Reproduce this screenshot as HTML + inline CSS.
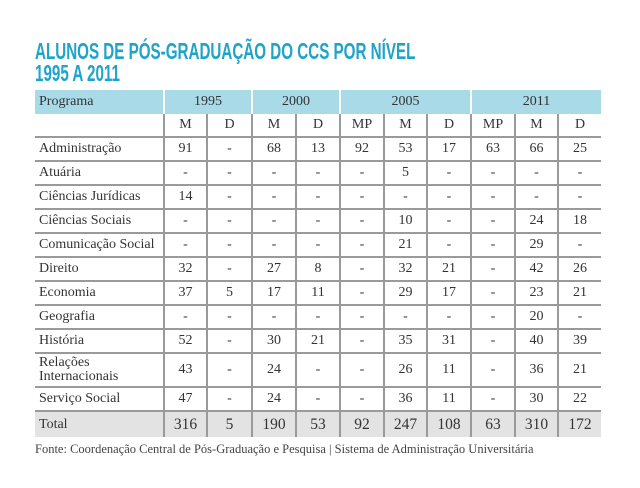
<!DOCTYPE html><html><head><meta charset="utf-8"><style>
body{margin:0;width:640px;height:488px;background:#fff;position:relative;overflow:hidden;font-family:"Liberation Serif",serif;color:#333}
.t{position:absolute;left:35px;font-family:"Liberation Sans",sans-serif;font-weight:bold;color:#1ea3c9;font-size:23px;transform-origin:0 0;transform:scaleX(0.66);white-space:nowrap;line-height:22px}
table{position:absolute;left:35px;top:90px;border-collapse:collapse;table-layout:fixed;font-size:14px}
td{border-left:2px solid #9a9a9a;border-bottom:2px solid #9a9a9a;text-align:center;height:22px;padding:0}
td:first-child{border-left:none;text-align:left;padding-left:4px}
tr.h td{background:#a9dae8;border-left:2px solid #fff;border-bottom:none;height:24px}
tr.h td:first-child{border-left:none}
tr.tot td{background:#e3e3e3;border-bottom:none;font-size:15.5px;height:25px}
.f{position:absolute;left:35px;top:442px;font-size:12.5px;color:#444}
</style></head><body>
<div class="t" style="top:40px">ALUNOS DE PÓS-GRADUAÇÃO DO CCS POR NÍVEL</div>
<div class="t" style="top:62px">1995 A 2011</div>
<table>
<colgroup><col style="width:129px"><col style="width:43px"><col style="width:45px"><col style="width:44px"><col style="width:44px"><col style="width:44px"><col style="width:43px"><col style="width:44px"><col style="width:44px"><col style="width:43px"><col style="width:43px"></colgroup>
<tr class="h"><td>Programa</td><td colspan="2">1995</td><td colspan="2">2000</td><td colspan="3">2005</td><td colspan="3">2011</td></tr>
<tr><td></td><td>M</td><td>D</td><td>M</td><td>D</td><td>MP</td><td>M</td><td>D</td><td>MP</td><td>M</td><td>D</td></tr>
<tr><td>Administração</td><td>91</td><td>-</td><td>68</td><td>13</td><td>92</td><td>53</td><td>17</td><td>63</td><td>66</td><td>25</td></tr>
<tr><td>Atuária</td><td>-</td><td>-</td><td>-</td><td>-</td><td>-</td><td>5</td><td>-</td><td>-</td><td>-</td><td>-</td></tr>
<tr><td>Ciências Jurídicas</td><td>14</td><td>-</td><td>-</td><td>-</td><td>-</td><td>-</td><td>-</td><td>-</td><td>-</td><td>-</td></tr>
<tr><td>Ciências Sociais</td><td>-</td><td>-</td><td>-</td><td>-</td><td>-</td><td>10</td><td>-</td><td>-</td><td>24</td><td>18</td></tr>
<tr><td>Comunicação Social</td><td>-</td><td>-</td><td>-</td><td>-</td><td>-</td><td>21</td><td>-</td><td>-</td><td>29</td><td>-</td></tr>
<tr><td>Direito</td><td>32</td><td>-</td><td>27</td><td>8</td><td>-</td><td>32</td><td>21</td><td>-</td><td>42</td><td>26</td></tr>
<tr><td>Economia</td><td>37</td><td>5</td><td>17</td><td>11</td><td>-</td><td>29</td><td>17</td><td>-</td><td>23</td><td>21</td></tr>
<tr><td>Geografia</td><td>-</td><td>-</td><td>-</td><td>-</td><td>-</td><td>-</td><td>-</td><td>-</td><td>20</td><td>-</td></tr>
<tr><td>História</td><td>52</td><td>-</td><td>30</td><td>21</td><td>-</td><td>35</td><td>31</td><td>-</td><td>40</td><td>39</td></tr>
<tr><td style="height:32px;line-height:14px">Relações<br>Internacionais</td><td>43</td><td>-</td><td>24</td><td>-</td><td>-</td><td>26</td><td>11</td><td>-</td><td>36</td><td>21</td></tr>
<tr><td>Serviço Social</td><td>47</td><td>-</td><td>24</td><td>-</td><td>-</td><td>36</td><td>11</td><td>-</td><td>30</td><td>22</td></tr>
<tr class="tot"><td style="font-size:14px">Total</td><td>316</td><td>5</td><td>190</td><td>53</td><td>92</td><td>247</td><td>108</td><td>63</td><td>310</td><td>172</td></tr>
</table>
<div class="f">Fonte: Coordenação Central de Pós-Graduação e Pesquisa | Sistema de Administração Universitária</div>
</body></html>
